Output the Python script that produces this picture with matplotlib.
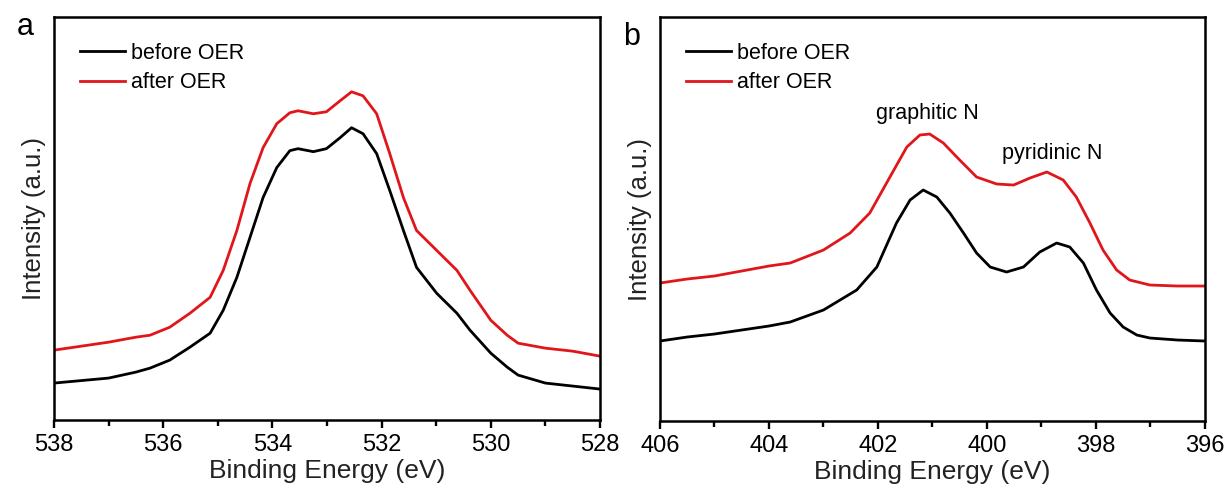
#!/usr/bin/env python3
"""XPS O 1s / N 1s spectra before and after OER."""

import matplotlib.pyplot as plt

plt.rcParams["font.family"] = ["Liberation Sans", "DejaVu Sans"]

# panel a: O 1s
be_o = [538, 537, 536.5, 536.24, 535.88, 535.51, 535.14, 534.9, 534.65, 534.41,
        534.17, 533.92, 533.68, 533.53, 533.25, 533.01, 532.76, 532.55, 532.34,
        532.09, 531.85, 531.6, 531.36, 530.99, 530.62, 530.38, 530, 529.7, 529.5,
        529, 528.5, 528]
o_before = [37, 42, 48, 52, 60, 73, 87, 110, 143, 183, 223, 253, 270, 272, 269, 272,
            283, 293, 287, 267, 230, 190, 153, 127, 107, 90, 67, 53, 45, 37, 34, 31]
o_after = [70, 78, 83, 85, 93, 107, 123, 150, 190, 237, 273, 297, 308, 310, 307, 309,
           320, 329, 325, 307, 267, 223, 190, 170, 150, 130, 100, 85, 77, 72, 69, 64]

# panel b: N 1s
be_n_before = [406, 405.5, 405, 404.5, 404, 403.61, 403.0, 402.39, 402.02, 401.66,
               401.41, 401.17, 400.92, 400.68, 400.43, 400.19, 399.94, 399.64,
               399.33, 399.03, 398.72, 398.48, 398.23, 397.99, 397.74, 397.5,
               397.25, 397.01, 396.5, 396]
n_before = [80, 84, 87, 91, 95, 99, 111, 131, 154, 198, 221, 231, 224, 208, 188, 168,
            154, 149, 154, 169, 178, 174, 158, 131, 108, 94, 86, 83, 81, 80]
be_n_after = [406, 405.5, 405, 404.5, 404, 403.61, 403.0, 402.51, 402.15, 401.78,
              401.47, 401.23, 401.05, 400.8, 400.5, 400.19, 399.82, 399.51, 399.21,
              398.9, 398.6, 398.36, 398.11, 397.87, 397.62, 397.38, 397.01, 396.5, 396]
n_after = [138, 142, 145, 150, 155, 158, 171, 188, 208, 244, 274, 286, 287, 278, 261,
           244, 237, 236, 243, 249, 241, 224, 198, 171, 151, 141, 136, 135, 135]

fig = plt.figure(figsize=(12.26, 4.93), dpi=100)
ax_a = fig.add_axes([0.0440, 0.1481, 0.4454, 0.8174])
ax_b = fig.add_axes([0.5383, 0.1460, 0.4445, 0.8195])

panels = [
    (ax_a, be_o, o_before, be_o, o_after, (538, 528)),
    (ax_b, be_n_before, n_before, be_n_after, n_after, (406, 396)),
]
for ax, xb, yb, xa, ya, lim in panels:
    ax.plot(xb, yb, color="black", lw=2.0, label="before OER")
    ax.plot(xa, ya, color="#e0161b", lw=2.0, label="after OER")
    ax.set_xlim(*lim)
    ax.set_ylim(0, 404)
    ax.set_xticks(range(lim[1], lim[0] + 1, 2))
    ax.set_xticks(range(lim[1] + 1, lim[0], 2), minor=True)
    ax.set_yticks([])
    ax.tick_params(axis="x", which="major", direction="out", length=6, width=1.7,
                   labelsize=17, pad=4)
    ax.tick_params(axis="x", which="minor", direction="out", length=4, width=1.7)
    for s in ax.spines.values():
        s.set_linewidth(1.8)
    ax.set_xlabel("Binding Energy (eV)", fontsize=19, color="#222222", labelpad=2)
    ax.set_ylabel("Intensity (a.u.)", fontsize=18.5, color="#222222", labelpad=6)
    ax.legend(loc="upper left", frameon=False, fontsize=15.5, handlelength=2.1,
              handletextpad=0.3, labelspacing=0.4, borderaxespad=0.8,
              borderpad=0.4)

fig.text(0.0204, 0.929, "a", fontsize=22, ha="center", va="baseline")
fig.text(0.5155, 0.909, "b", fontsize=22, ha="center", va="baseline")

ax_b.text(401.1, 308, "graphitic N", fontsize=15.5, ha="center", va="center")
ax_b.text(398.8, 268, "pyridinic N", fontsize=15.5, ha="center", va="center")

fig.savefig("out.png", dpi=100)
